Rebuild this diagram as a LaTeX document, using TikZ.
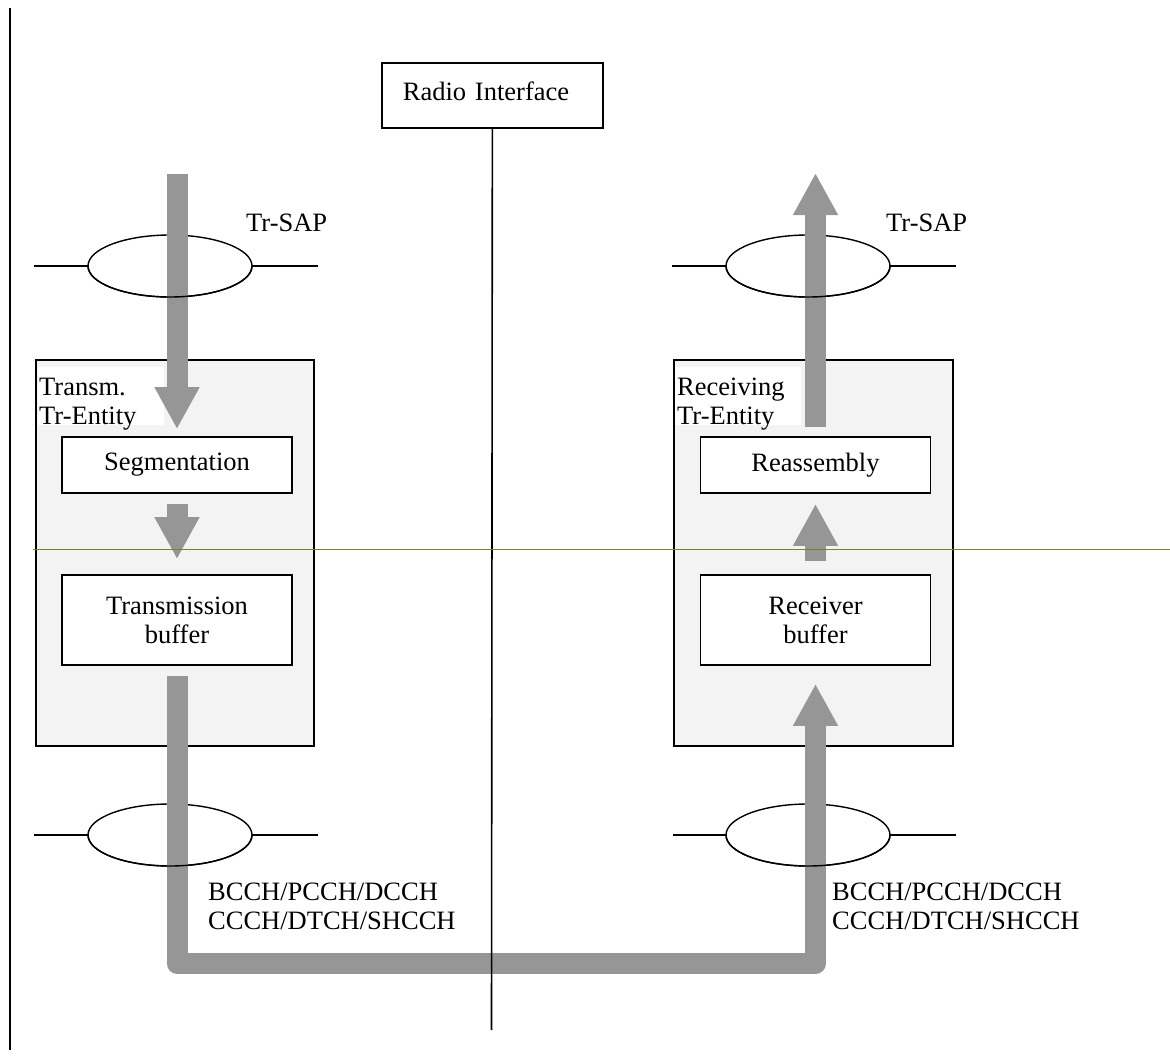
\documentclass[tikz,border=0pt]{standalone}
\usepackage{fontspec}
\setmainfont{Liberation Serif}
\usetikzlibrary{shapes.geometric,arrows.meta}
\definecolor{flowgray}{RGB}{150,150,150}
\definecolor{entityfill}{RGB}{243,243,243}
\definecolor{levelline}{RGB}{128,128,40}
\begin{document}
\begin{tikzpicture}[x=1pt,y=-1pt,
  every node/.style={font=\fontsize{26.5}{29}\selectfont},
  frame/.style={draw, line width=1.7pt},
  entity/.style={frame, fill=entityfill, anchor=north west, inner sep=0},
  func/.style={frame, fill=white, minimum width=230pt, align=center, inner sep=0},
  sap/.style={ellipse, draw, line width=1.4pt, minimum width=164pt, minimum height=62pt, inner sep=0, outer sep=0},
  sapline/.style={line width=1.4pt},
  flow/.style={draw=flowgray, line width=21pt, -{Triangle[width=42pt,length=42pt]}},
  lbl/.style={inner sep=0, anchor=base west},
  labelbg/.style={fill=white, inner sep=0, anchor=north west, minimum width=126pt, minimum height=58pt},
]
\useasboundingbox (0,0) rectangle (1170,1057);

% left border line
\coordinate (bordertop) at (10,8);
\coordinate (borderbot) at (10,1050);
\draw[line width=1.8pt] (bordertop) -- (borderbot);

% radio interface
\node[frame, anchor=north west, minimum width=221pt, minimum height=65pt,
      text width=179pt, inner xsep=21pt, inner ysep=0, text depth=8pt, align=left] (radio) at (381,62) {Radio Interface};
\coordinate (radioend) at (491.5,1030);

% transmitting and receiving entities
\node[entity, minimum width=278pt, minimum height=386pt] (txent) at (35,359) {};
\node[entity, minimum width=279pt, minimum height=386pt] (rxent) at (673,359) {};

\node[labelbg] (txlblbg) at (38,367) {};
\node[lbl] (txlbl1) at (39,395) {Transm.};
\node[lbl] (txlbl2) at (39,424) {Tr-Entity};
\node[labelbg] (rxlblbg) at (675,367) {};
\node[lbl] (rxlbl1) at (677,395) {Receiving};
\node[lbl] (rxlbl2) at (677,424) {Tr-Entity};

\node[func, minimum height=56pt] (seg) at (177,465) {Segmentation};
\node[func, minimum height=90pt] (txbuf) at (177,620) {Transmission\\buffer};
\node[func, minimum height=56pt] (reasm) at (815.5,465) {Reassembly};
\node[func, minimum height=90pt] (rxbuf) at (815.5,620) {Receiver\\buffer};

% service access points
\node[sap] (sapTL) at (170,266) {};
\node[sap] (sapTR) at (808,266) {};
\node[sap] (sapBL) at (170,835) {};
\node[sap] (sapBR) at (808,835) {};
\coordinate (sapTLa) at (34,266);  \coordinate (sapTLb) at (318,266);
\coordinate (sapTRa) at (672,266); \coordinate (sapTRb) at (956,266);
\coordinate (sapBLa) at (34,835);  \coordinate (sapBLb) at (318,835);
\coordinate (sapBRa) at (673,835); \coordinate (sapBRb) at (956,835);
\foreach \s in {TL,TR,BL,BR}{
  \draw[sapline] (sap\s a) -- (sap\s.west);
  \draw[sapline] (sap\s.east) -- (sap\s b);
}
\node[lbl] (saplblL) at (246,231) {Tr-SAP};
\node[lbl] (saplblR) at (886,231) {Tr-SAP};

% data flow
\coordinate (txin) at (177,174);
\coordinate (rxout) at (815.5,173);
\coordinate (bendL) at (177,963.5);
\coordinate (bendR) at (815.5,963.5);
\draw[flow, shorten >=7pt] (txin) -- (seg.north);
\draw[flow, shorten <=10pt, shorten >=15pt] (seg.south) -- (txbuf.north);
\draw[flow, line join=round, shorten <=10pt, shorten >=18pt] (txbuf.south) -- (bendL) -- (bendR) -- (rxbuf.south);
\draw[flow, shorten <=13pt, shorten >=10pt] (rxbuf.north) -- (reasm.south);
\draw[flow, shorten <=9pt] (reasm.north) -- (rxout);

% lower halves of the access points stay visible over the flow
\foreach \s in {TL,TR,BL,BR}{
  \draw[sapline] (sap\s.west) arc[start angle=180, end angle=360, x radius=82pt, y radius=31pt];
}

% logical channel labels
\node[lbl] (chL1) at (208,900) {BCCH/PCCH/DCCH};
\node[lbl] (chL2) at (208,929) {CCCH/DTCH/SHCCH};
\node[lbl] (chR1) at (832,900) {BCCH/PCCH/DCCH};
\node[lbl] (chR2) at (832,929) {CCCH/DTCH/SHCCH};

% radio interface line and level line
\draw[line width=1.6pt] (radio.south) -- (radioend);
\coordinate (levelA) at (33,549);
\coordinate (levelB) at (1170,549);
\draw[levelline, line width=0.9pt] (levelA) -- (levelB);
\end{tikzpicture}
\end{document}
